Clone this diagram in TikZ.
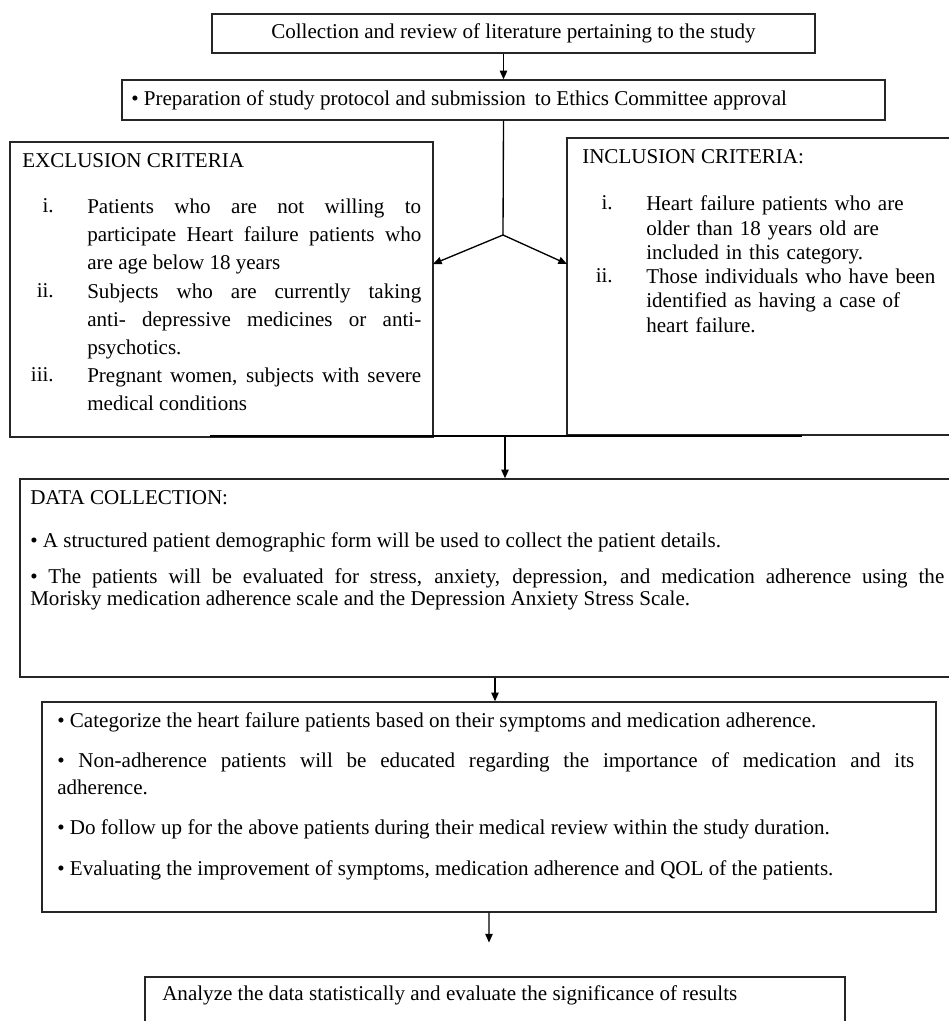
\documentclass[tikz,border=0pt]{standalone}
\usepackage{fontspec}
\setmainfont{Liberation Serif}
\usetikzlibrary{arrows.meta,calc,positioning,fit}

\begin{document}
\begin{tikzpicture}[x=0.75pt,y=-0.75pt,
		frame/.style={draw=black!85,line width=1pt,inner sep=0pt},
		txt/.style={inner sep=0pt,font=\fontsize{15.8}{18}\selectfont},
		para/.style n args={2}{inner sep=0pt,anchor=north west,text width=#1,align=justify,font=\fontsize{15.8}{#2}\selectfont},
		rag/.style n args={2}{inner sep=0pt,anchor=north west,text width=#1,align=left,font=\fontsize{15.8}{#2}\selectfont},
		num/.style={inner sep=0pt,anchor=north east,font=\fontsize{15.8}{18}\selectfont},
		arr/.style={line width=1pt,-{Triangle[length=6.5pt,width=5.5pt]}}]
		\useasboundingbox (0,0) rectangle (949,1021);
		\clip (0,0) rectangle (949,1021);
		%% boxes
		\node[frame,fit={(212,14) (815,53)}] (review) {};
		\node[frame,fit={(122,80) (885,120)}] (protocol) {};
		\node[frame,fit={(10,142) (433,437)}] (excl) {};
		\node[frame,fit={(567,138) (990,435)}] (incl) {};
		\node[frame,fit={(20,479) (990,677)}] (datacoll) {};
		\node[frame,fit={(42,702) (936,912)}] (followup) {};
		\node[frame,fit={(145,977) (845,1040)}] (analyse) {};
		%% texts
		\node[txt] (review-t) at (review.center) {Collection and review of literature pertaining to the study};
		\node[txt,anchor=west] (protocol-t) at (131,100) {• Preparation of study protocol and submission\, to Ethics Committee approval};
		%%
		\node[txt,anchor=west] (excl-t) at (22,161) {EXCLUSION CRITERIA};
		\node[num] (excl-1n) at (54,198.5) {i.};
		\node[para={250.5pt}{21.2pt}] (excl-1) at (87,198.5) {Patients who are not willing to\linebreak participate Heart failure patients who\linebreak are age below 18 years};
		\node[num] (excl-2n) at (54,283.5) {ii.};
		\node[para={250.5pt}{21.2pt}] (excl-2) at (87,283.5) {Subjects who are currently taking\linebreak anti- depressive medicines or anti-\linebreak psychotics.};
		\node[num] (excl-3n) at (54,367.5) {iii.};
		\node[para={250.5pt}{21.2pt}] (excl-3) at (87,367.5) {Pregnant women, subjects with severe\linebreak medical conditions};
		%%
		\node[txt,anchor=west] (incl-t) at (582,157) {INCLUSION CRITERIA:};
		\node[num] (incl-1n) at (613,195.5) {i.};
		\node[rag={232pt}{18.3pt}] (incl-1) at (646,195.5) {Heart failure patients who are\\older than 18 years old are\\included in this category.};
		\node[num] (incl-2n) at (613,268.5) {ii.};
		\node[rag={232pt}{18.3pt}] (incl-2) at (646,268.5) {Those individuals who have been\\identified as having a case of\\heart failure.};
		%%
		\node[txt,anchor=west] (datacoll-t) at (30,498) {DATA COLLECTION:};
		\node[txt,anchor=west] (datacoll-1) at (30,542) {• A structured patient demographic form will be used to collect the patient details.};
		\node[para={685.5pt}{16.5pt}] (datacoll-2) at (30,568.5) {• The patients will be evaluated for stress, anxiety, depression, and medication adherence using the\linebreak Morisky medication adherence scale and the Depression Anxiety Stress Scale.};
		%%
		\node[txt,anchor=west] (followup-1) at (57,722) {• Categorize the heart failure patients based on their symptoms and medication adherence.};
		\node[para={642.75pt}{20.25pt}] (followup-2) at (57,752.5) {• Non-adherence patients will be educated regarding the importance of medication and its\linebreak adherence.};
		\node[txt,anchor=west] (followup-3) at (57,829) {• Do follow up for the above patients during their medical review within the study duration.};
		\node[txt,anchor=west] (followup-4) at (57,870) {• Evaluating the improvement of symptoms, medication adherence and QOL of the patients.};
		%%
		\node[txt,anchor=west] (analyse-t) at (162,995) {Analyze the data statistically and evaluate the significance of results};
		%% connectors
		\coordinate (split) at (503,235);
		\coordinate (excl-in) at (433,264);
		\coordinate (incl-in) at (567,264);
		\coordinate (barL) at (210,436);
		\coordinate (barR) at (802,436);
		\draw[arr] (protocol.north |- review.south) -- (protocol.north);
		\draw[line width=1pt] (protocol.south) -- (split);
		\draw[arr] (split) -- (excl-in);
		\draw[arr] (split) -- (incl-in);
		\draw[line width=1pt] (barL) -- (barR);
		\draw[arr] (datacoll.north |- barL) -- (datacoll.north);
		\draw[arr] (datacoll.south -| analyse.north) -- (analyse.north |- followup.north);
		\draw[arr] (followup.south) -- ($(followup.south)!0.47!(followup.south |- analyse.north)$);
\end{tikzpicture}
\end{document}
